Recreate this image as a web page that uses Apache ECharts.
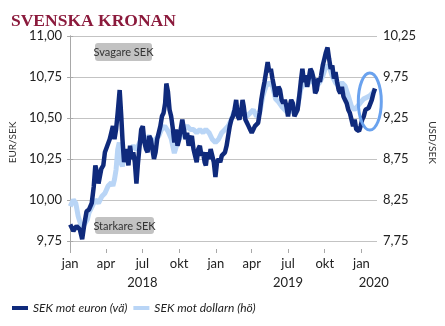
<!DOCTYPE html>
<html><head><meta charset="utf-8">
<script src="https://cdn.jsdelivr.net/npm/echarts@6/dist/echarts.min.js"></script>
<style>html,body{margin:0;padding:0;background:#fff}#c{width:445px;height:326px}</style>
</head><body><div id="c"></div><script>
const eurDates=['2018-01-01','2018-01-09','2018-01-17','2018-01-25','2018-01-31','2018-02-06','2018-02-11','2018-02-17','2018-02-24','2018-03-01','2018-03-05','2018-03-10','2018-03-13','2018-03-20','2018-03-25','2018-03-29','2018-04-04','2018-04-10','2018-04-14','2018-04-18','2018-04-22','2018-04-26','2018-04-30','2018-05-05','2018-05-09','2018-05-12','2018-05-16','2018-05-20','2018-05-24','2018-05-27','2018-05-31','2018-06-04','2018-06-08','2018-06-12','2018-06-16','2018-06-20','2018-06-24','2018-06-28','2018-07-02','2018-07-06','2018-07-10','2018-07-14','2018-07-18','2018-07-22','2018-07-26','2018-07-30','2018-08-03','2018-08-07','2018-08-11','2018-08-15','2018-08-19','2018-08-23','2018-08-27','2018-08-30','2018-09-03','2018-09-07','2018-09-11','2018-09-15','2018-09-19','2018-09-23','2018-09-27','2018-10-01','2018-10-05','2018-10-09','2018-10-13','2018-10-17','2018-10-21','2018-10-25','2018-10-29','2018-11-02','2018-11-06','2018-11-10','2018-11-14','2018-11-18','2018-11-22','2018-11-26','2018-11-30','2018-12-04','2018-12-07','2018-12-11','2018-12-15','2018-12-19','2018-12-23','2018-12-27','2018-12-31','2019-01-04','2019-01-08','2019-01-12','2019-01-16','2019-01-20','2019-01-24','2019-01-28','2019-02-01','2019-02-05','2019-02-09','2019-02-13','2019-02-17','2019-02-21','2019-02-25','2019-03-01','2019-03-05','2019-03-09','2019-03-12','2019-03-16','2019-03-20','2019-03-24','2019-03-28','2019-04-01','2019-04-05','2019-04-09','2019-04-13','2019-04-17','2019-04-21','2019-04-25','2019-04-29','2019-05-03','2019-05-07','2019-05-11','2019-05-15','2019-05-19','2019-05-23','2019-05-27','2019-05-31','2019-06-04','2019-06-07','2019-06-11','2019-06-15','2019-06-19','2019-06-23','2019-06-27','2019-07-01','2019-07-05','2019-07-09','2019-07-13','2019-07-17','2019-07-21','2019-07-25','2019-07-29','2019-08-02','2019-08-06','2019-08-10','2019-08-14','2019-08-18','2019-08-22','2019-08-26','2019-08-30','2019-09-03','2019-09-07','2019-09-11','2019-09-15','2019-09-19','2019-09-22','2019-09-26','2019-09-30','2019-10-04','2019-10-08','2019-10-12','2019-10-16','2019-10-20','2019-10-24','2019-10-28','2019-11-01','2019-11-05','2019-11-09','2019-11-13','2019-11-17','2019-11-21','2019-11-25','2019-11-29','2019-12-03','2019-12-07','2019-12-11','2019-12-15','2019-12-19','2019-12-23','2019-12-26','2019-12-30','2020-01-03','2020-01-07','2020-01-11','2020-01-15','2020-01-19','2020-01-23','2020-01-27','2020-01-31','2020-02-04'];
const eurValues=[9.85,9.81,9.84,9.82,9.76,9.86,9.93,9.94,9.98,10.08,10.21,10.16,10.10,10.19,10.21,10.29,10.33,10.37,10.41,10.45,10.37,10.43,10.53,10.67,10.51,10.37,10.23,10.31,10.27,10.21,10.33,10.25,10.29,10.23,10.10,10.23,10.33,10.43,10.45,10.35,10.31,10.29,10.39,10.37,10.31,10.25,10.29,10.37,10.37,10.45,10.51,10.53,10.59,10.71,10.66,10.55,10.51,10.44,10.35,10.43,10.33,10.37,10.43,10.49,10.43,10.37,10.41,10.33,10.37,10.39,10.31,10.27,10.23,10.31,10.33,10.27,10.29,10.23,10.21,10.29,10.25,10.31,10.27,10.23,10.14,10.23,10.25,10.23,10.27,10.27,10.29,10.33,10.39,10.45,10.49,10.51,10.55,10.61,10.51,10.49,10.53,10.61,10.57,10.49,10.47,10.45,10.43,10.41,10.43,10.45,10.45,10.47,10.53,10.61,10.67,10.72,10.78,10.84,10.78,10.80,10.74,10.69,10.63,10.62,10.69,10.67,10.61,10.59,10.61,10.57,10.51,10.57,10.61,10.59,10.51,10.50,10.55,10.63,10.72,10.80,10.72,10.76,10.69,10.74,10.80,10.78,10.74,10.65,10.67,10.74,10.72,10.76,10.82,10.86,10.90,10.93,10.86,10.80,10.82,10.74,10.78,10.72,10.67,10.65,10.69,10.63,10.61,10.59,10.55,10.53,10.49,10.45,10.49,10.43,10.44,10.42,10.45,10.49,10.51,10.55,10.55,10.56,10.57,10.61,10.65,10.68];
const usdDates=['2018-01-01','2018-01-09','2018-01-15','2018-01-21','2018-01-26','2018-02-02','2018-02-08','2018-02-13','2018-02-17','2018-02-25','2018-03-05','2018-03-13','2018-03-21','2018-03-29','2018-04-06','2018-04-14','2018-04-18','2018-04-22','2018-04-26','2018-04-30','2018-05-04','2018-05-08','2018-05-12','2018-05-16','2018-05-23','2018-05-31','2018-06-08','2018-06-16','2018-06-24','2018-07-02','2018-07-10','2018-07-18','2018-07-26','2018-08-03','2018-08-11','2018-08-18','2018-08-26','2018-09-03','2018-09-11','2018-09-19','2018-09-27','2018-10-05','2018-10-13','2018-10-21','2018-10-29','2018-11-06','2018-11-14','2018-11-22','2018-11-30','2018-12-07','2018-12-15','2018-12-23','2018-12-31','2019-01-08','2019-01-16','2019-01-24','2019-02-01','2019-02-09','2019-02-17','2019-02-25','2019-03-05','2019-03-12','2019-03-20','2019-03-28','2019-04-05','2019-04-13','2019-04-21','2019-04-29','2019-05-07','2019-05-15','2019-05-23','2019-05-31','2019-06-08','2019-06-15','2019-06-23','2019-07-01','2019-07-09','2019-07-17','2019-07-25','2019-08-02','2019-08-10','2019-08-18','2019-08-26','2019-09-03','2019-09-11','2019-09-18','2019-09-26','2019-10-04','2019-10-12','2019-10-20','2019-10-28','2019-11-05','2019-11-13','2019-11-21','2019-11-29','2019-12-07','2019-12-15','2019-12-22','2019-12-30','2020-01-06','2020-01-14','2020-01-22','2020-01-30','2020-02-03'];
const usdValues=[8.17,8.25,8.21,8.05,7.97,7.93,7.97,8.01,8.09,8.17,8.25,8.21,8.29,8.33,8.42,8.46,8.42,8.50,8.62,8.86,8.95,8.70,8.66,8.78,8.82,8.86,8.91,8.86,8.95,9.03,8.99,9.03,8.95,8.99,9.03,9.11,9.15,9.09,9.00,8.82,8.95,9.03,9.11,9.15,9.11,9.11,9.07,9.11,9.07,9.11,9.07,8.99,8.95,8.99,9.07,9.11,9.15,9.23,9.35,9.31,9.35,9.31,9.27,9.31,9.35,9.27,9.31,9.52,9.64,9.68,9.64,9.48,9.44,9.39,9.35,9.31,9.35,9.31,9.39,9.60,9.68,9.64,9.72,9.68,9.64,9.68,9.76,9.88,9.88,9.76,9.68,9.64,9.68,9.64,9.52,9.39,9.35,9.39,9.44,9.48,9.50,9.52,9.56,9.60];
const leftTicks=[9.75,10,10.25,10.5,10.75,11];
const rightTicks=[7.75,8.25,8.75,9.25,9.75,10.25];
const monthTickDates=['2018-01-01','2018-04-01','2018-07-01','2018-10-01','2019-01-01','2019-04-01','2019-07-01','2019-10-01','2020-01-01'];
const monthNames=['jan','feb','mar','apr','maj','jun','jul','aug','sep','okt','nov','dec'];
const yearLabelDates=['2018-07-01','2019-07-01','2020-02-01'];
const axisStart='2017-12-24', axisEnd='2020-02-09';
const highlightCenter=['2020-01-22',10.60];

const BASE=Date.UTC(2018,0,1);
function day(s){return (Date.parse(s+'T00:00:00Z')-BASE)/864e5;}
function fromDay(v){return new Date(BASE+Math.round(v)*864e5);}
const fmt2=v=>v.toFixed(2).replace('.',',');
const monthVals=monthTickDates.map(day);
const yearVals=yearLabelDates.map(day);
const FONT='Lato';
const GRID='#c3c3c3', AX='#a8a8a8';

const chart=echarts.init(document.getElementById('c'),null,{renderer:'canvas'});
const option={
  animation:false,
  backgroundColor:'#fff',
  title:{text:'SVENSKA KRONAN',left:6,top:7,textStyle:{fontFamily:'Liberation Serif',fontWeight:'bold',fontSize:17.5,color:'#8b1a3c'}},
  grid:{left:58,right:59,top:36,bottom:77},
  legend:{data:['SEK mot euron (vä)','SEK mot dollarn (hö)'],left:7,top:297,icon:'rect',itemWidth:16,itemHeight:4,itemGap:6,
    textStyle:{fontFamily:FONT,fontStyle:'italic',fontSize:12,color:'#222'}},
  xAxis:[
    {type:'value',min:day(axisStart),max:day(axisEnd),position:'bottom',
     axisLine:{show:false},
     axisTick:{show:true,customValues:monthVals,length:4,lineStyle:{color:AX}},
     axisLabel:{customValues:monthVals,margin:8,fontFamily:FONT,fontSize:13,color:'#222',
       formatter:v=>monthNames[fromDay(v).getUTCMonth()]},
     splitLine:{show:false}},
    {type:'value',min:day(axisStart),max:day(axisEnd),position:'bottom',offset:19,
     axisLine:{show:false},axisTick:{show:false},
     axisLabel:{customValues:yearVals,margin:8,fontFamily:FONT,fontSize:13,color:'#222',
       formatter:v=>String(fromDay(v).getUTCFullYear())},
     splitLine:{show:false}}
  ],
  yAxis:[
    {type:'value',min:9.7,max:11.0,position:'left',name:'EUR/SEK',nameLocation:'middle',nameRotate:90,nameGap:37,
     nameTextStyle:{fontFamily:FONT,fontSize:10,color:'#333'},
     axisLine:{show:true,lineStyle:{color:AX}},
     axisTick:{show:true,customValues:leftTicks,length:3,lineStyle:{color:AX}},
     axisLabel:{customValues:leftTicks,margin:5,fontFamily:FONT,fontSize:13,color:'#222',formatter:fmt2},
     splitLine:{show:true,customValues:leftTicks,lineStyle:{color:GRID,width:1}}},
    {type:'value',min:7.65,max:10.25,position:'right',name:'USD/SEK',nameLocation:'middle',nameRotate:-90,nameGap:38,
     nameTextStyle:{fontFamily:FONT,fontSize:10,color:'#333'},
     axisLine:{show:true,lineStyle:{color:AX}},
     axisTick:{show:true,customValues:rightTicks,length:3,lineStyle:{color:AX}},
     axisLabel:{customValues:rightTicks,margin:6,fontFamily:FONT,fontSize:13,color:'#222',formatter:fmt2},
     splitLine:{show:false}}
  ],
  series:[
    {name:'SEK mot dollarn (hö)',type:'line',xAxisIndex:0,yAxisIndex:1,showSymbol:false,symbol:'none',
     color:'#b9d5f6',lineStyle:{color:'#b9d5f6',width:5},z:2,
     data:usdDates.map((d,i)=>[day(d),usdValues[i]])},
    {name:'SEK mot euron (vä)',type:'line',xAxisIndex:0,yAxisIndex:0,showSymbol:false,symbol:'none',
     color:'#0f2a7c',lineStyle:{color:'#0f2a7c',width:4.5},z:3,
     data:eurDates.map((d,i)=>[day(d),eurValues[i]])}
  ]
};
chart.setOption(option);
const c=chart.convertToPixel({xAxisIndex:0,yAxisIndex:0},[day(highlightCenter[0]),highlightCenter[1]]);
function tag(id,x,y,w,h,txt){
  return {id:id,type:'group',x:x,y:y,z:10,children:[
    {type:'rect',shape:{x:0,y:0,width:w,height:h,r:3},style:{fill:'#c2c2c2'}},
    {type:'text',x:w/2,y:h/2+0.5,style:{text:txt,align:'center',verticalAlign:'middle',font:'11px Lato',fill:'#333'}}]};
}
chart.setOption({graphic:[
  tag('svag',95,43,57,18,'Svagare SEK'),
  tag('stark',95,217,59,17,'Starkare SEK'),
  {id:'ell',type:'ellipse',z:12,shape:{cx:c[0],cy:c[1],rx:11.5,ry:28.5},style:{fill:'none',stroke:'#6aa2ee',lineWidth:3}}
]});
</script></body></html>
